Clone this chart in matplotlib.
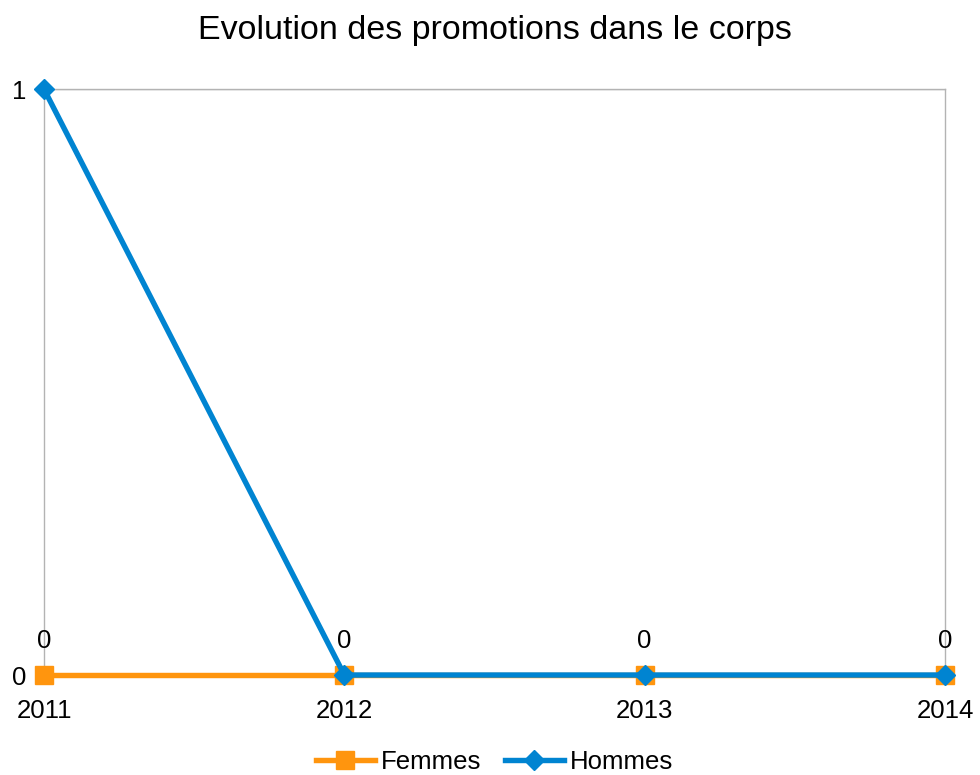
import matplotlib.pyplot as plt

plt.rcParams['font.family'] = ['Liberation Sans', 'DejaVu Sans']

years = ['2011', '2012', '2013', '2014']
femmes = [0, 0, 0, 0]
hommes = [1, 0, 0, 0]

fig = plt.figure(figsize=(9.8, 7.75), dpi=100)
ax = fig.add_axes([0.0449, 0.129, 0.9194, 0.756])

x = range(len(years))
ax.plot(x, femmes, color='#FF950E', lw=3.9, marker='s', ms=13, label='Femmes', zorder=3, clip_on=False)
ax.plot(x, hommes, color='#0084D1', lw=3.9, marker='D', ms=10.5, label='Hommes', zorder=4, clip_on=False)

# étiquettes de données
for i, v in enumerate(femmes):
    ax.annotate(str(v), (i, v), xytext=(0, 16), textcoords='offset points',
                ha='center', va='bottom', fontsize=18.5)

ax.set_xlim(0, 3)
ax.set_ylim(0, 1)
ax.set_xticks(list(x))
ax.set_xticklabels(years)
ax.set_yticks([0, 1])
ax.grid(True, axis='y', color='#b3b3b3', lw=1)
for s in ax.spines.values():
    s.set_color('#b3b3b3')
    s.set_linewidth(1)
ax.tick_params(length=3, color='#b3b3b3', labelsize=18.5)
ax.tick_params(axis='x', pad=14)
ax.tick_params(axis='y', pad=10)

ax.set_title('Evolution des promotions dans le corps', fontsize=24.5, pad=36)
ax.legend(loc='center', bbox_to_anchor=(0.5, -0.149), ncol=2, frameon=False,
          fontsize=18.5, handlelength=2.3, handletextpad=0.25, columnspacing=0.9,
          borderpad=0, borderaxespad=0)

fig.savefig('out.png')
